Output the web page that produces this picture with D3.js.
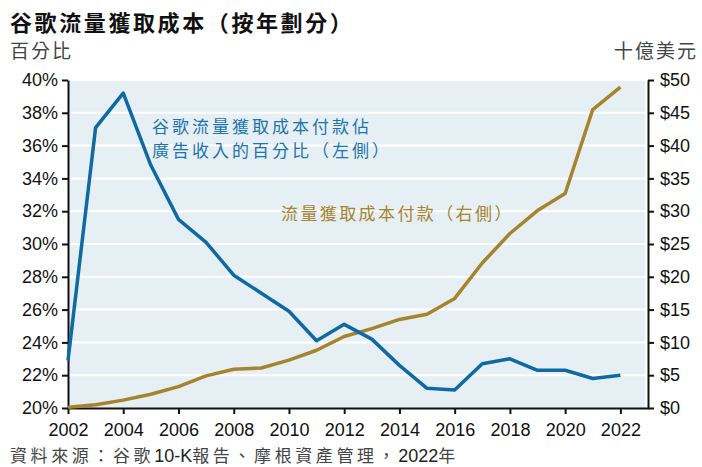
<!DOCTYPE html>
<html lang="zh-Hant">
<head>
  <meta charset="UTF-8">
  <title>谷歌流量獲取成本</title>
  <script src="https://d3js.org/d3.v7.min.js"></script>
  <style>
    body { margin: 0; background: #fff; }
    text { font-family: "Liberation Sans", Arial, "Noto Sans CJK TC", sans-serif; }
    .cjk { font-family: "Liberation Sans", "Noto Sans CJK TC", sans-serif; }
  </style>
</head>
<body>
  <svg id="chart" width="702" height="467"></svg>
  <script>
    // data
    const years = [2002, 2003, 2004, 2005, 2006, 2007, 2008, 2009, 2010, 2011, 2012,
      2013, 2014, 2015, 2016, 2017, 2018, 2019, 2020, 2021, 2022];
    // TAC as % of ad revenue (left axis)
    const tacPct = [22.9, 37.1, 39.2, 34.8, 31.5, 30.1, 28.1, 27.0, 25.9, 24.1, 25.1,
      24.2, 22.6, 21.2, 21.1, 22.7, 23.0, 22.3, 22.3, 21.8, 22.0];
    // TAC payments, $bn (right axis)
    const tacUsd = [0.1, 0.5, 1.2, 2.1, 3.25, 4.9, 5.9, 6.1, 7.3, 8.8, 10.9,
      12.1, 13.5, 14.3, 16.7, 22.1, 26.6, 30.1, 32.7, 45.5, 48.9];
    const xTicks = [2002, 2004, 2006, 2008, 2010, 2012, 2014, 2016, 2018, 2020, 2022];
    const leftTicks = [20, 22, 24, 26, 28, 30, 32, 34, 36, 38, 40];
    const rightTicks = [0, 5, 10, 15, 20, 25, 30, 35, 40, 45, 50];

    const svg = d3.select('svg#chart');
    const margin = { top: 80, right: 54, bottom: 59, left: 68 };
    const width = +svg.attr('width');
    const height = +svg.attr('height');
    const chartWidth = width - margin.left - margin.right;
    const chartHeight = height - margin.top - margin.bottom;

    const blue = '#0f6aa3';
    const gold = '#a5842c';

    const xScale = d3.scaleLinear().domain([2002, 2023]).range([0, chartWidth]);
    const pctScale = d3.scaleLinear().domain([20, 40]).range([chartHeight, 0]);
    const usdScale = d3.scaleLinear().domain([0, 50]).range([chartHeight, 0]);

    // titles
    svg.append('text').attr('class', 'cjk')
      .attr('x', 10).attr('y', 31)
      .style('font-size', '22px').style('font-weight', 'bold')
      .style('letter-spacing', '2.6px').attr('fill', '#111')
      .text('谷歌流量獲取成本（按年劃分）');
    svg.append('text').attr('class', 'cjk')
      .attr('x', 10).attr('y', 58)
      .style('font-size', '19px').style('letter-spacing', '2px').attr('fill', '#444')
      .text('百分比');
    svg.append('text').attr('class', 'cjk')
      .attr('x', 698).attr('y', 58).attr('text-anchor', 'end')
      .style('font-size', '19px').style('letter-spacing', '2px').attr('fill', '#444')
      .text('十億美元');

    const chartArea = svg.append('g')
      .attr('transform', 'translate(' + margin.left + ',' + margin.top + ')');

    chartArea.append('rect')
      .attr('x', 0).attr('y', 0)
      .attr('width', chartWidth - 3).attr('height', chartHeight)
      .attr('fill', '#e6eff3');

    // white gridlines
    chartArea.append('g').selectAll('line')
      .data(leftTicks.slice(1))
      .join('line')
      .attr('x1', 0).attr('x2', chartWidth - 3)
      .attr('y1', d => pctScale(d)).attr('y2', d => pctScale(d))
      .attr('stroke', '#fff').attr('stroke-width', 2);

    // axes
    const leftAxis = d3.axisLeft(pctScale).tickValues(leftTicks)
      .tickFormat(d => d + '%').tickSize(6).tickSizeOuter(0);
    const rightAxis = d3.axisRight(usdScale).tickValues(rightTicks)
      .tickFormat(d => '$' + d).tickSize(6).tickSizeOuter(0);
    const bottomAxis = d3.axisBottom(xScale).tickValues(xTicks)
      .tickFormat(d3.format('d')).tickSize(6).tickSizeOuter(0);

    function styleAxis(g) {
      g.select('.domain').attr('stroke', '#111').attr('stroke-width', 2);
      g.selectAll('.tick line').attr('stroke', '#111').attr('stroke-width', 2);
      g.selectAll('.tick text').attr('fill', '#111')
        .style('font-size', '18px').style('font-family', '"Liberation Sans", Arial, sans-serif');
    }

    chartArea.append('g').call(leftAxis).call(styleAxis)
      .selectAll('.tick text').attr('x', -10);
    chartArea.append('g')
      .attr('transform', 'translate(' + chartWidth + ',0)')
      .call(rightAxis).call(styleAxis)
      .selectAll('.tick text').attr('x', 12);
    chartArea.append('g')
      .attr('transform', 'translate(0,' + chartHeight + ')')
      .call(bottomAxis).call(styleAxis)
      .selectAll('.tick text').attr('y', 15);

    // lines
    const pctLine = d3.line().x((d, i) => xScale(years[i])).y(d => pctScale(d));
    const usdLine = d3.line().x((d, i) => xScale(years[i])).y(d => usdScale(d));

    chartArea.append('path').datum(tacUsd)
      .attr('d', usdLine).attr('fill', 'none')
      .attr('stroke', gold).attr('stroke-width', 3.5).attr('stroke-linejoin', 'round');
    chartArea.append('path').datum(tacPct)
      .attr('d', pctLine).attr('fill', 'none')
      .attr('stroke', blue).attr('stroke-width', 3.5).attr('stroke-linejoin', 'round');

    // labels in the plot
    const blueLabel = svg.append('text').attr('class', 'cjk')
      .attr('fill', '#1f74ad').style('font-size', '17px').style('letter-spacing', '3px');
    blueLabel.append('tspan').attr('x', 152).attr('y', 133).text('谷歌流量獲取成本付款佔');
    blueLabel.append('tspan').attr('x', 152).attr('y', 157).text('廣告收入的百分比（左側）');

    svg.append('text').attr('class', 'cjk')
      .attr('x', 281).attr('y', 220)
      .attr('fill', '#a5852f').style('font-size', '17px').style('letter-spacing', '2.4px')
      .text('流量獲取成本付款（右側）');

    // source
    const source = svg.append('text').attr('class', 'cjk')
      .attr('x', 10).attr('y', 462)
      .attr('fill', '#444').style('font-size', '17px').style('letter-spacing', '3.6px');
    source.append('tspan').text('資料來源：谷歌');
    source.append('tspan').style('letter-spacing', '0px').style('font-size', '18px')
      .attr('fill', '#222').text('10-K');
    source.append('tspan').text('報告、摩根資產管理，');
    source.append('tspan').style('letter-spacing', '0px').style('font-size', '18px')
      .attr('fill', '#222').text('2022');
    source.append('tspan').text('年');
  </script>
</body>
</html>
